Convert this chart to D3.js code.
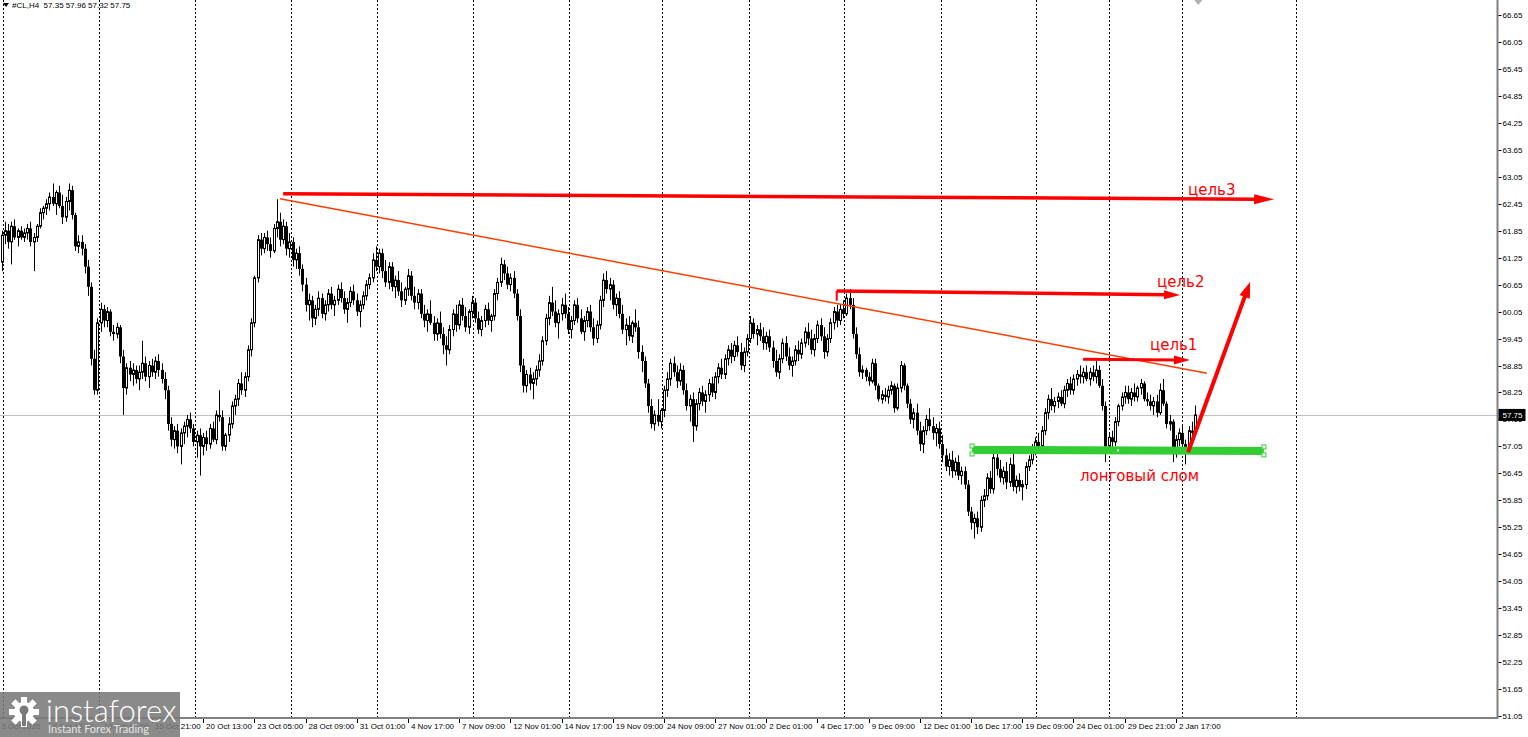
<!DOCTYPE html>
<html>
<head>
<meta charset="utf-8">
<title>#CL,H4</title>
<script src="https://d3js.org/d3.v7.min.js"></script>
<style>
  body { margin: 0; background: #fff; overflow: hidden; }
  svg { display: block; }
  .axis text { font-family: "Liberation Sans", Arial, sans-serif; font-size: 8px; fill: #000; }
  .note { font-family: "DejaVu Sans", sans-serif; font-size: 15px; fill: #ff0000; }
</style>
</head>
<body>
<script>

// ---- data (one entry per bar) ----
var opens = [
  61.15,61.75,61.85,61.60,61.95,61.70,61.85,61.70,61.80,61.90,
  61.60,61.70,61.95,62.25,62.35,62.45,62.60,62.45,62.70,62.40,
  62.15,62.50,62.75,62.20,61.50,61.60,61.45,61.05,60.60,59.00,
  58.30,59.80,60.10,59.85,60.05,59.60,59.55,59.70,59.05,58.35,
  58.80,58.65,58.75,58.55,58.70,58.90,58.60,58.85,58.70,58.95,
  58.75,58.55,58.30,57.55,57.20,57.40,57.05,57.35,57.50,57.65,
  57.45,57.15,57.30,57.05,57.25,57.10,57.45,57.20,57.75,57.70,
  57.05,57.30,57.55,57.95,58.10,58.45,58.30,58.60,59.20,59.80,
  60.80,61.65,61.45,61.70,61.55,61.40,61.90,62.05,61.65,61.95,
  61.45,61.60,61.20,61.35,61.00,60.65,60.20,60.30,59.90,60.10,
  60.35,60.00,60.20,60.45,60.20,60.30,60.55,60.35,60.10,60.25,
  60.50,60.30,60.05,60.20,60.40,60.65,60.80,61.20,61.05,61.35,
  60.95,60.70,61.05,60.60,60.75,60.50,60.30,60.55,60.85,60.40,
  60.25,60.45,60.00,59.85,60.00,59.80,59.55,59.80,59.55,59.30,
  59.20,59.65,60.00,59.75,60.20,59.95,59.70,60.05,60.25,59.90,
  59.65,59.85,60.10,59.85,59.95,60.45,60.70,61.10,60.90,60.65,
  60.80,60.45,59.95,58.85,58.40,58.65,58.45,58.55,58.75,58.95,
  59.40,59.90,60.25,60.05,59.80,60.00,60.20,60.00,59.65,59.85,
  60.20,59.90,59.60,59.85,60.05,59.70,59.45,59.75,60.30,60.75,
  60.55,60.65,60.20,60.35,60.00,59.65,59.75,59.50,59.80,59.70,
  59.15,58.95,58.45,57.95,57.55,57.75,57.60,57.85,58.30,58.55,
  58.90,58.70,58.50,58.75,58.30,57.95,58.10,57.50,58.00,58.25,
  58.05,58.20,58.45,58.25,58.60,58.80,58.65,59.00,59.20,59.05,
  59.30,59.15,58.85,59.15,59.45,59.80,59.55,59.65,59.50,59.35,
  59.50,59.25,58.95,58.70,59.00,59.35,59.05,58.85,58.95,59.20,
  59.10,59.35,59.60,59.45,59.20,59.45,59.75,59.50,59.15,59.45,
  59.80,60.05,59.85,60.10,60.00,60.35,60.20,59.55,59.10,58.70,
  58.75,58.60,58.50,58.90,58.40,58.10,58.20,58.15,58.30,58.40,
  57.90,58.35,58.85,58.40,58.00,57.65,57.80,57.40,57.10,57.40,
  57.65,57.50,57.35,57.45,57.10,56.85,56.60,56.75,56.50,56.70,
  56.40,56.50,56.20,55.60,55.35,55.45,55.25,55.85,55.95,56.35,
  56.10,56.80,56.55,56.35,56.50,56.25,56.65,56.15,56.30,56.15,
  56.20,56.60,56.75,57.00,57.15,57.05,57.40,57.80,58.10,57.95,
  58.05,58.15,58.00,58.30,58.45,58.30,58.55,58.65,58.60,58.70,
  58.55,58.70,58.60,58.75,58.40,57.95,57.05,57.25,57.15,57.60,
  57.95,58.15,58.25,58.10,58.25,58.15,58.35,58.45,58.10,58.05,
  57.95,58.05,57.80,58.30,58.00,57.55,57.60,56.90,57.20,57.35,
  57.10,56.95,57.40,57.35
];
var highs = [
  61.85,62.05,62.00,62.05,62.10,61.90,61.95,61.90,62.00,62.05,
  61.80,62.00,62.35,62.40,62.55,62.70,62.90,62.75,62.85,62.65,
  62.60,62.90,62.85,62.25,61.75,61.75,61.55,61.20,60.70,59.20,
  59.90,60.25,60.20,60.15,60.10,59.75,59.80,59.75,59.20,58.90,
  58.95,58.90,58.85,58.85,59.40,59.05,58.95,59.00,59.05,59.10,
  58.90,58.70,58.40,57.70,57.50,57.55,57.45,57.60,57.75,57.80,
  57.55,57.40,57.45,57.35,57.40,57.55,57.60,57.85,58.30,57.85,
  57.35,57.70,58.05,58.20,58.55,58.70,58.70,59.30,59.90,60.85,
  61.75,61.80,61.80,61.85,61.70,62.00,62.55,62.25,62.10,62.05,
  61.80,61.70,61.45,61.50,61.10,60.80,60.45,60.40,60.20,60.50,
  60.45,60.30,60.55,60.60,60.40,60.65,60.70,60.50,60.35,60.60,
  60.65,60.45,60.30,60.50,60.75,60.90,61.35,61.50,61.45,61.45,
  61.20,61.15,61.15,60.85,60.95,60.70,60.60,61.00,60.95,60.60,
  60.55,60.55,60.20,60.10,60.30,59.95,59.90,60.05,59.70,59.50,
  59.75,60.10,60.20,60.30,60.35,60.15,60.10,60.40,60.35,60.05,
  59.95,60.20,60.25,60.00,60.55,60.80,61.25,61.20,61.05,60.90,
  60.95,60.55,60.10,59.00,58.75,58.80,58.70,58.85,59.10,59.50,
  60.00,60.40,60.60,60.30,60.10,60.35,60.45,60.15,59.95,60.30,
  60.35,60.10,59.95,60.15,60.20,59.90,59.85,60.40,60.90,60.95,
  60.80,60.75,60.45,60.50,60.20,59.90,59.95,59.85,60.10,59.85,
  59.30,59.05,58.55,58.10,57.85,58.10,57.90,58.40,58.70,59.00,
  59.05,58.85,58.90,58.85,58.45,58.20,58.25,58.10,58.35,58.40,
  58.30,58.55,58.60,58.70,58.90,59.00,59.10,59.30,59.35,59.40,
  59.50,59.35,59.25,59.55,59.95,59.90,59.75,59.80,59.70,59.60,
  59.65,59.40,59.20,59.10,59.45,59.50,59.25,59.05,59.30,59.40,
  59.45,59.70,59.80,59.65,59.55,59.85,59.90,59.70,59.55,59.90,
  60.15,60.20,60.20,60.30,60.45,60.55,60.35,59.70,59.25,58.85,
  58.80,58.70,59.00,59.00,58.45,58.30,58.35,58.40,58.50,58.45,
  58.45,58.95,58.90,58.45,58.10,57.90,58.00,57.60,57.50,57.75,
  57.90,57.70,57.55,57.60,57.30,57.00,56.90,56.95,56.80,56.85,
  56.60,56.60,56.30,55.70,55.55,55.60,55.95,56.10,56.45,56.50,
  56.95,57.00,56.75,56.60,56.70,56.80,56.95,56.40,56.45,56.30,
  56.70,56.85,57.10,57.25,57.35,57.50,57.90,58.20,58.35,58.15,
  58.25,58.30,58.40,58.55,58.60,58.65,58.75,58.85,58.80,58.85,
  58.80,58.85,58.95,58.85,58.55,58.05,57.35,57.40,57.70,58.00,
  58.25,58.40,58.40,58.35,58.45,58.40,58.55,58.50,58.25,58.20,
  58.15,58.20,58.45,58.55,58.05,57.75,57.65,57.30,57.45,57.50,
  57.20,57.50,57.60,57.96
];
var lows = [
  60.95,61.55,61.45,61.10,61.65,61.50,61.65,61.60,61.65,61.50,
  60.95,61.60,61.90,62.10,62.20,62.30,62.40,62.20,62.35,62.00,
  62.05,62.30,62.10,61.40,61.35,61.30,60.90,60.40,58.85,58.20,
  58.20,59.60,59.70,59.70,59.50,59.40,59.45,58.90,57.75,58.20,
  58.50,58.40,58.45,58.30,58.55,58.50,58.35,58.60,58.55,58.60,
  58.45,58.10,57.40,57.05,57.00,56.90,56.65,57.10,57.25,57.35,
  57.05,56.80,56.40,56.85,56.95,57.00,57.15,57.10,57.60,56.95,
  56.95,57.15,57.45,57.75,57.95,58.20,58.15,58.50,59.05,59.70,
  60.70,61.30,61.35,61.40,61.25,61.35,61.70,61.50,61.55,61.30,
  61.25,61.05,61.00,60.85,60.50,60.05,59.85,59.70,59.75,59.95,
  59.90,59.85,60.05,60.10,59.95,60.20,60.25,60.00,59.80,60.15,
  60.20,59.95,59.70,60.10,60.30,60.55,60.70,60.95,60.90,60.80,
  60.60,60.55,60.50,60.35,60.40,60.15,60.20,60.40,60.30,60.10,
  60.10,59.90,59.70,59.60,59.75,59.40,59.40,59.45,59.10,58.85,
  59.10,59.50,59.60,59.65,59.85,59.60,59.55,59.90,59.80,59.55,
  59.50,59.70,59.75,59.60,59.85,60.30,60.60,60.75,60.55,60.50,
  60.35,59.85,58.70,58.25,58.25,58.30,58.10,58.40,58.60,58.85,
  59.30,59.75,59.95,59.70,59.45,59.85,59.90,59.55,59.45,59.75,
  59.80,59.55,59.40,59.70,59.60,59.30,59.35,59.65,60.15,60.45,
  60.30,60.10,59.95,59.90,59.55,59.30,59.40,59.35,59.60,59.00,
  58.70,58.35,57.80,57.45,57.40,57.50,57.45,57.70,58.15,58.40,
  58.60,58.35,58.40,58.20,57.85,57.60,57.15,57.40,57.85,57.95,
  57.80,58.05,58.15,58.10,58.45,58.55,58.55,58.85,58.90,58.95,
  59.05,58.75,58.70,59.05,59.35,59.45,59.30,59.40,59.20,59.20,
  59.15,58.80,58.60,58.55,58.90,58.95,58.75,58.60,58.85,58.95,
  59.00,59.25,59.30,59.10,59.05,59.35,59.40,59.00,59.05,59.35,
  59.65,59.70,59.75,59.90,59.95,60.10,59.45,59.00,58.60,58.55,
  58.50,58.40,58.45,58.30,58.05,58.00,58.05,58.00,58.20,57.80,
  57.85,58.25,58.30,57.90,57.55,57.45,57.30,56.95,56.90,57.30,
  57.40,57.20,57.05,57.00,56.70,56.50,56.40,56.35,56.40,56.30,
  56.20,56.10,55.50,55.20,55.00,55.10,55.15,55.70,55.85,56.00,
  56.00,56.40,56.25,56.20,56.10,56.15,56.05,56.00,56.05,55.85,
  56.10,56.50,56.65,56.85,56.95,56.95,57.30,57.65,57.85,57.80,
  57.90,57.95,57.90,58.15,58.20,58.20,58.40,58.45,58.45,58.50,
  58.40,58.50,58.45,58.35,57.85,56.70,56.95,57.00,57.05,57.50,
  57.85,58.00,58.00,57.95,58.05,58.05,58.20,58.05,57.95,57.85,
  57.75,57.70,57.75,57.95,57.45,57.40,56.70,56.80,57.05,56.90,
  56.65,56.90,57.25,57.32
];
var closes = [
  61.75,61.85,61.60,61.95,61.70,61.85,61.70,61.80,61.90,61.60,
  61.70,61.95,62.25,62.35,62.45,62.60,62.45,62.70,62.40,62.15,
  62.50,62.75,62.20,61.50,61.60,61.45,61.05,60.60,59.00,58.30,
  59.80,60.10,59.85,60.05,59.60,59.55,59.70,59.05,58.35,58.80,
  58.65,58.75,58.55,58.70,58.90,58.60,58.85,58.70,58.95,58.75,
  58.55,58.30,57.55,57.20,57.40,57.05,57.35,57.50,57.65,57.45,
  57.15,57.30,57.05,57.25,57.10,57.45,57.20,57.75,57.70,57.05,
  57.30,57.55,57.95,58.10,58.45,58.30,58.60,59.20,59.80,60.80,
  61.65,61.45,61.70,61.55,61.40,61.90,62.05,61.65,61.95,61.45,
  61.60,61.20,61.35,61.00,60.65,60.20,60.30,59.90,60.10,60.35,
  60.00,60.20,60.45,60.20,60.30,60.55,60.35,60.10,60.25,60.50,
  60.30,60.05,60.20,60.40,60.65,60.80,61.20,61.05,61.35,60.95,
  60.70,61.05,60.60,60.75,60.50,60.30,60.55,60.85,60.40,60.25,
  60.45,60.00,59.85,60.00,59.80,59.55,59.80,59.55,59.30,59.20,
  59.65,60.00,59.75,60.20,59.95,59.70,60.05,60.25,59.90,59.65,
  59.85,60.10,59.85,59.95,60.45,60.70,61.10,60.90,60.65,60.80,
  60.45,59.95,58.85,58.40,58.65,58.45,58.55,58.75,58.95,59.40,
  59.90,60.25,60.05,59.80,60.00,60.20,60.00,59.65,59.85,60.20,
  59.90,59.60,59.85,60.05,59.70,59.45,59.75,60.30,60.75,60.55,
  60.65,60.20,60.35,60.00,59.65,59.75,59.50,59.80,59.70,59.15,
  58.95,58.45,57.95,57.55,57.75,57.60,57.85,58.30,58.55,58.90,
  58.70,58.50,58.75,58.30,57.95,58.10,57.50,58.00,58.25,58.05,
  58.20,58.45,58.25,58.60,58.80,58.65,59.00,59.20,59.05,59.30,
  59.15,58.85,59.15,59.45,59.80,59.55,59.65,59.50,59.35,59.50,
  59.25,58.95,58.70,59.00,59.35,59.05,58.85,58.95,59.20,59.10,
  59.35,59.60,59.45,59.20,59.45,59.75,59.50,59.15,59.45,59.80,
  60.05,59.85,60.10,60.00,60.35,60.20,59.55,59.10,58.70,58.75,
  58.60,58.50,58.90,58.40,58.10,58.20,58.15,58.30,58.40,57.90,
  58.35,58.85,58.40,58.00,57.65,57.80,57.40,57.10,57.40,57.65,
  57.50,57.35,57.45,57.10,56.85,56.60,56.75,56.50,56.70,56.40,
  56.50,56.20,55.60,55.35,55.45,55.25,55.85,55.95,56.35,56.10,
  56.80,56.55,56.35,56.50,56.25,56.65,56.15,56.30,56.15,56.20,
  56.60,56.75,57.00,57.15,57.05,57.40,57.80,58.10,57.95,58.05,
  58.15,58.00,58.30,58.45,58.30,58.55,58.65,58.60,58.70,58.55,
  58.70,58.60,58.75,58.40,57.95,57.05,57.25,57.15,57.60,57.95,
  58.15,58.25,58.10,58.25,58.15,58.35,58.45,58.10,58.05,57.95,
  58.05,57.80,58.30,58.00,57.55,57.60,56.90,57.20,57.35,57.10,
  56.95,57.40,57.35,57.75
];

// time axis labels, placed at bar numbers
var timeTickBars = [-1, 15, 31, 47, 63, 79, 95, 111, 127, 143, 159, 175, 191, 207, 223, 239, 255, 271, 287, 303, 319, 335, 351, 367];
var timeTickLabels = ["3 Oct 2025", "8 Oct 13:00", "13 Oct 05:00", "15 Oct 21:00", "20 Oct 13:00", "23 Oct 05:00",
  "28 Oct 09:00", "31 Oct 01:00", "4 Nov 17:00", "7 Nov 09:00", "12 Nov 01:00", "14 Nov 17:00", "19 Nov 09:00",
  "24 Nov 09:00", "27 Nov 01:00", "2 Dec 01:00", "4 Dec 17:00", "9 Dec 09:00", "12 Dec 01:00", "16 Dec 17:00",
  "19 Dec 09:00", "24 Dec 01:00", "29 Dec 21:00", "2 Jan 17:00"];

// dotted vertical grid, in bar numbers
var gridBars = [0.5, 30.5, 60.5, 90.5, 117.3, 147.3, 177.3, 206.4, 233.6, 263.3, 293.6, 323.3, 346.1, 368.9, 404.6];

// price scale labels
var priceTicks = ["51.05", "51.65", "52.25", "52.85", "53.45", "54.05", "54.65", "55.25", "55.85", "56.45", "57.05",
  "57.65", "58.25", "58.85", "59.45", "60.05", "60.65", "61.25", "61.85", "62.45", "63.05", "63.65", "64.25",
  "64.85", "65.45", "66.05", "66.65"];
var lastPrice = 57.75;
var headerText = "#CL,H4  57.35 57.96 57.32 57.75";

// hand-drawn target arrows (bar, price)
var targetNames = ["цель3", "цель2", "цель1"];
var targetFromBar = [88, 261, 338];
var targetFromPrice = [62.67, 60.51, 58.99];
var targetToBar = [397.7, 368.3, 371.4];
var targetToPrice = [62.55, 60.42, 58.97];
var targetTextBar = [370.8, 361.1, 358.9];
var targetTextPrice = [62.64, 60.60, 59.19];

// descending trend line
var trendBars = [87, 376.7];
var trendPrices = [62.56, 58.68];

// green level + breakout arrow
var levelBars = [303.3, 394.5];
var levelPrices = [56.97, 56.95];
var breakBars = [370.8, 390.2];
var breakPrices = [56.92, 60.71];
var levelText = "лонговый слом";
var levelTextBar = 337;
var levelTextPrice = 56.28;

// ---- layout ----
var width = 1528, height = 737;
var plotRight = 1497.5, plotBottom = 718;

var svg = d3.select("body").append("svg")
  .attr("width", width)
  .attr("height", height);

var x = d3.scaleLinear().domain([0, 373]).range([1.5, 1195.1]);
var y = d3.scaleLinear().domain([51.05, 66.65]).range([716, 15]);

function px(v) { return Math.round(v) + 0.5; }

// grid
svg.append("g").selectAll("line")
  .data(gridBars)
  .enter().append("line")
  .attr("x1", function(d) { return px(x(d)); })
  .attr("x2", function(d) { return px(x(d)); })
  .attr("y1", 0)
  .attr("y2", plotBottom)
  .attr("stroke", "#000")
  .attr("stroke-width", 1)
  .attr("stroke-dasharray", "2,2");

// last price line
svg.append("line")
  .attr("x1", 0).attr("x2", plotRight)
  .attr("y1", px(y(lastPrice))).attr("y2", px(y(lastPrice)))
  .attr("stroke", "#c0c0c0");

// candles
var bars = d3.range(closes.length);
var candles = svg.append("g");
candles.selectAll("line")
  .data(bars)
  .enter().append("line")
  .attr("x1", function(i) { return px(x(i)); })
  .attr("x2", function(i) { return px(x(i)); })
  .attr("y1", function(i) { return y(highs[i]); })
  .attr("y2", function(i) { return y(lows[i]); })
  .attr("stroke", "#000")
  .attr("stroke-width", 1);

candles.selectAll("rect")
  .data(bars)
  .enter().append("rect")
  .attr("x", function(i) { return closes[i] >= opens[i] ? Math.round(x(i)) - 0.5 : Math.round(x(i)) - 1; })
  .attr("width", function(i) { return closes[i] >= opens[i] ? 2 : 3; })
  .attr("y", function(i) { return y(Math.max(opens[i], closes[i])); })
  .attr("height", function(i) { return Math.max(1, Math.abs(y(opens[i]) - y(closes[i]))); })
  .attr("fill", function(i) { return closes[i] >= opens[i] ? "#fff" : "#000"; })
  .attr("stroke", function(i) { return closes[i] >= opens[i] ? "#000" : "none"; })
  .attr("stroke-width", 1);

// axes frame
svg.append("line")
  .attr("x1", plotRight).attr("x2", plotRight)
  .attr("y1", 0).attr("y2", plotBottom + 1)
  .attr("stroke", "#808080").attr("stroke-width", 2);
svg.append("line")
  .attr("x1", 0).attr("x2", plotRight)
  .attr("y1", plotBottom).attr("y2", plotBottom)
  .attr("stroke", "#808080").attr("stroke-width", 2);

// price axis
var yAxis = svg.append("g").attr("class", "axis");
yAxis.selectAll("line")
  .data(priceTicks)
  .enter().append("line")
  .attr("x1", plotRight + 1).attr("x2", plotRight + 4)
  .attr("y1", function(d) { return px(y(+d)); })
  .attr("y2", function(d) { return px(y(+d)); })
  .attr("stroke", "#000");
yAxis.selectAll("text")
  .data(priceTicks)
  .enter().append("text")
  .attr("x", plotRight + 5)
  .attr("y", function(d) { return y(+d) + 3; })
  .text(function(d) { return d; });

// time axis
var xAxis = svg.append("g").attr("class", "axis");
xAxis.selectAll("line")
  .data(timeTickBars)
  .enter().append("line")
  .attr("x1", function(d) { return px(x(d)); })
  .attr("x2", function(d) { return px(x(d)); })
  .attr("y1", plotBottom + 1).attr("y2", plotBottom + 5)
  .attr("stroke", "#000");
xAxis.selectAll("text")
  .data(timeTickBars)
  .enter().append("text")
  .attr("x", function(d) { return x(d) + 3; })
  .attr("y", plotBottom + 11)
  .text(function(d, i) { return timeTickLabels[i]; });

// current price tag
svg.append("rect")
  .attr("x", plotRight + 1).attr("y", y(lastPrice) - 6)
  .attr("width", 27).attr("height", 12)
  .attr("fill", "#000");
svg.append("text")
  .attr("class", "axis")
  .attr("x", plotRight + 5).attr("y", y(lastPrice) + 3)
  .style("fill", "#fff")
  .style("font-family", "Liberation Sans, Arial, sans-serif")
  .style("font-size", "8px")
  .text(lastPrice.toFixed(2));

// header
svg.append("path")
  .attr("d", "M3,3 L9,3 L6,7 Z")
  .attr("fill", "#000");
svg.append("text")
  .attr("x", 12).attr("y", 8)
  .style("font-family", "Liberation Sans, Arial, sans-serif")
  .style("font-size", "8px")
  .style("white-space", "pre")
  .attr("xml:space", "preserve")
  .text(headerText);

// shift marker on top
svg.append("path")
  .attr("d", "M" + (x(374) - 4) + ",0 L" + (x(374) + 4) + ",0 L" + x(374) + ",5 Z")
  .attr("fill", "#b0b0b0");

// ---- drawings ----
function arrowHead(x1, y1, x2, y2, len, half) {
  var a = Math.atan2(y2 - y1, x2 - x1);
  var bx = x2 - len * Math.cos(a), by = y2 - len * Math.sin(a);
  var nx = -Math.sin(a) * half, ny = Math.cos(a) * half;
  return "M" + x2 + "," + y2 + " L" + (bx + nx) + "," + (by + ny) + " L" + (bx - nx) + "," + (by - ny) + " Z";
}

// trend line
svg.append("line")
  .attr("x1", x(trendBars[0])).attr("y1", y(trendPrices[0]))
  .attr("x2", x(trendBars[1])).attr("y2", y(trendPrices[1]))
  .attr("stroke", "#ff3c00").attr("stroke-width", 1.5);

// small vertical tick at the start of the second target line
svg.append("line")
  .attr("x1", x(targetFromBar[1])).attr("x2", x(targetFromBar[1]))
  .attr("y1", y(targetFromPrice[1])).attr("y2", y(targetFromPrice[1] - 0.22))
  .attr("stroke", "#ff0000").attr("stroke-width", 2);

var headLen = [20, 16, 16], headHalf = [5, 4.5, 4.5], lineW = [3.5, 3.5, 3];
targetNames.forEach(function(name, k) {
  var x1 = x(targetFromBar[k]), y1 = y(targetFromPrice[k]);
  var x2 = x(targetToBar[k]), y2 = y(targetToPrice[k]);
  var a = Math.atan2(y2 - y1, x2 - x1);
  svg.append("line")
    .attr("x1", x1).attr("y1", y1)
    .attr("x2", x2 - (headLen[k] - 2) * Math.cos(a)).attr("y2", y2 - (headLen[k] - 2) * Math.sin(a))
    .attr("stroke", "#ff0000").attr("stroke-width", lineW[k]);
  svg.append("path")
    .attr("d", arrowHead(x1, y1, x2, y2, headLen[k], headHalf[k]))
    .attr("fill", "#ff0000");
  svg.append("text")
    .attr("class", "note")
    .attr("x", x(targetTextBar[k])).attr("y", y(targetTextPrice[k]))
    .text(name);
});

// green level
svg.append("line")
  .attr("x1", x(levelBars[0])).attr("y1", y(levelPrices[0]))
  .attr("x2", x(levelBars[1])).attr("y2", y(levelPrices[1]))
  .attr("stroke", "#32cd32").attr("stroke-width", 8);
[0, 1].forEach(function(k) {
  [-4, 4].forEach(function(off) {
    svg.append("rect")
      .attr("x", x(levelBars[k]) - 2).attr("y", y(levelPrices[k]) + off - 2)
      .attr("width", 4).attr("height", 4)
      .attr("fill", "#fff").attr("stroke", "#32cd32").attr("stroke-width", 1);
  });
});
svg.append("rect")
  .attr("x", x((levelBars[0] + levelBars[1]) / 2) - 1)
  .attr("y", y((levelPrices[0] + levelPrices[1]) / 2) - 1)
  .attr("width", 2).attr("height", 2)
  .attr("fill", "#fff");

// breakout arrow
(function() {
  var x1 = x(breakBars[0]), y1 = y(breakPrices[0]);
  var x2 = x(breakBars[1]), y2 = y(breakPrices[1]);
  var a = Math.atan2(y2 - y1, x2 - x1);
  svg.append("line")
    .attr("x1", x1).attr("y1", y1)
    .attr("x2", x2 - 14 * Math.cos(a)).attr("y2", y2 - 14 * Math.sin(a))
    .attr("stroke", "#ff0000").attr("stroke-width", 4);
  svg.append("path")
    .attr("d", arrowHead(x1, y1, x2, y2, 16, 5.5))
    .attr("fill", "#ff0000");
})();

svg.append("text")
  .attr("class", "note")
  .attr("x", x(levelTextBar)).attr("y", y(levelTextPrice))
  .text(levelText);

// ---- logo ----
var logo = svg.append("g");
logo.append("rect")
  .attr("x", 0).attr("y", 692).attr("width", 180).attr("height", 45)
  .attr("fill", "#7a7a7a").attr("opacity", 0.88);
var gear = logo.append("g").attr("transform", "translate(24,712)");
d3.range(8).forEach(function(k) {
  gear.append("rect")
    .attr("x", -3).attr("y", -15).attr("width", 6).attr("height", 8)
    .attr("fill", "#fff")
    .attr("transform", "rotate(" + (k * 45) + ")");
});
gear.append("circle").attr("r", 10).attr("fill", "#fff");
gear.append("circle").attr("r", 4.5).attr("cy", -2).attr("fill", "#7a7a7a");
gear.append("rect").attr("x", -2).attr("y", 0).attr("width", 4).attr("height", 14).attr("fill", "#7a7a7a");
logo.append("text")
  .attr("x", 46).attr("y", 722)
  .style("font-family", "Lato, sans-serif")
  .style("font-size", "31px")
  .style("font-weight", 300)
  .attr("fill", "#fff")
  .text("instaforex");
logo.append("text")
  .attr("x", 48).attr("y", 733)
  .style("font-family", "Lato, sans-serif")
  .style("font-size", "11px")
  .attr("fill", "#e6e6e6")
  .text("Instant Forex Trading");

</script>
</body>
</html>
